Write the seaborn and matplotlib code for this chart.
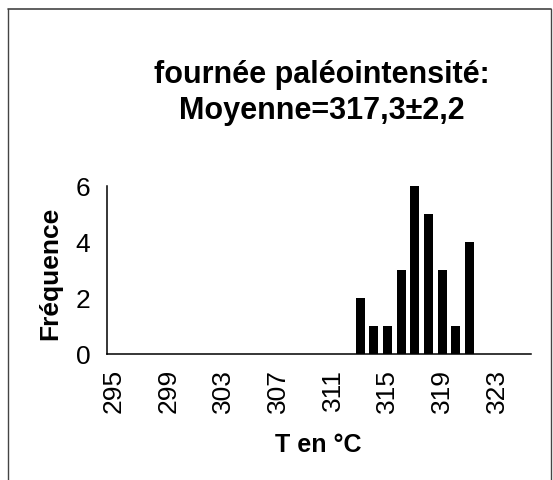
import matplotlib
matplotlib.use("Agg")
import matplotlib.pyplot as plt
from matplotlib.lines import Line2D
import seaborn as sns
import pandas as pd
import numpy as np

# Data
temperatures = list(range(295, 326))
counts_known = {313: 2, 314: 1, 315: 1, 316: 3, 317: 6, 318: 5, 319: 3, 320: 1, 321: 4}
frequencies = [counts_known.get(t, 0) for t in temperatures]
tick_labels = [str(t) for t in range(295, 326, 4)]
title_text = "fournée paléointensité:\nMoyenne=317,3±2,2"
x_label = "T en °C"
y_label = "Fréquence"

sns.set_theme(style="white")
plt.rcParams['font.family'] = ['Liberation Sans', 'DejaVu Sans']
plt.rcParams['text.color'] = 'black'
plt.rcParams['axes.labelcolor'] = 'black'
plt.rcParams['xtick.color'] = 'black'
plt.rcParams['ytick.color'] = 'black'

df = pd.DataFrame({"T": [str(t) for t in temperatures], "F": frequencies})

fig = plt.figure(figsize=(5.53, 4.81), dpi=100)
ax = fig.add_axes([107/553, 1-355/481, (531-107)/553, (355-187)/481])

sns.barplot(data=df, x="T", y="F", order=df["T"].tolist(), color="black",
            width=0.66, saturation=1, ax=ax, edgecolor="black", linewidth=0)

ax.set_xlim(-0.5, len(temperatures)-0.5)
ax.set_ylim(0, 6)
ax.set_yticks([0, 2, 4, 6])
ax.set_yticklabels(["0", "2", "4", "6"], fontsize=19)
label_pos = [temperatures.index(int(l)) for l in tick_labels]
ax.set_xticks(label_pos)
ax.set_xticklabels(tick_labels, rotation=90, fontsize=19)
ax.tick_params(axis='x', length=0, pad=10)
ax.set_xticks(np.arange(-0.5, len(temperatures), 1), minor=True)
ax.tick_params(axis='x', which='minor', length=5, direction='inout', width=0.8, color='black')
ax.tick_params(axis='y', length=6, direction='inout', width=0.8, color='black', pad=9)

for s in ["top", "right"]:
    ax.spines[s].set_visible(False)
for s in ["left", "bottom"]:
    ax.spines[s].set_color("black")
    ax.spines[s].set_linewidth(1.1)

ax.set_xlabel(x_label, fontsize=18, fontweight="bold")
ax.xaxis.set_label_coords((318-107)/424, (355-445)/168)
ax.xaxis.label.set_va("center")
ax.set_ylabel(y_label, fontsize=19, fontweight="bold")
ax.yaxis.set_label_coords((50-107)/424, (355-273)/168)
ax.yaxis.label.set_va("center")

fig.text(322/553, 1-93/481, title_text, ha="center", va="center",
         fontsize=22, fontweight="bold", linespacing=1.25)

# outer frame
fc = "#444444"
fig.add_artist(Line2D([8/553, 551/553], [1-10/481, 1-10/481], color=fc, lw=1.2, transform=fig.transFigure))
fig.add_artist(Line2D([8/553, 8/553], [0, 1-10/481], color=fc, lw=1.0, transform=fig.transFigure))
fig.add_artist(Line2D([551/553, 551/553], [0, 1-10/481], color=fc, lw=1.0, transform=fig.transFigure))

fig.savefig("out.png", dpi=100, facecolor="white")
